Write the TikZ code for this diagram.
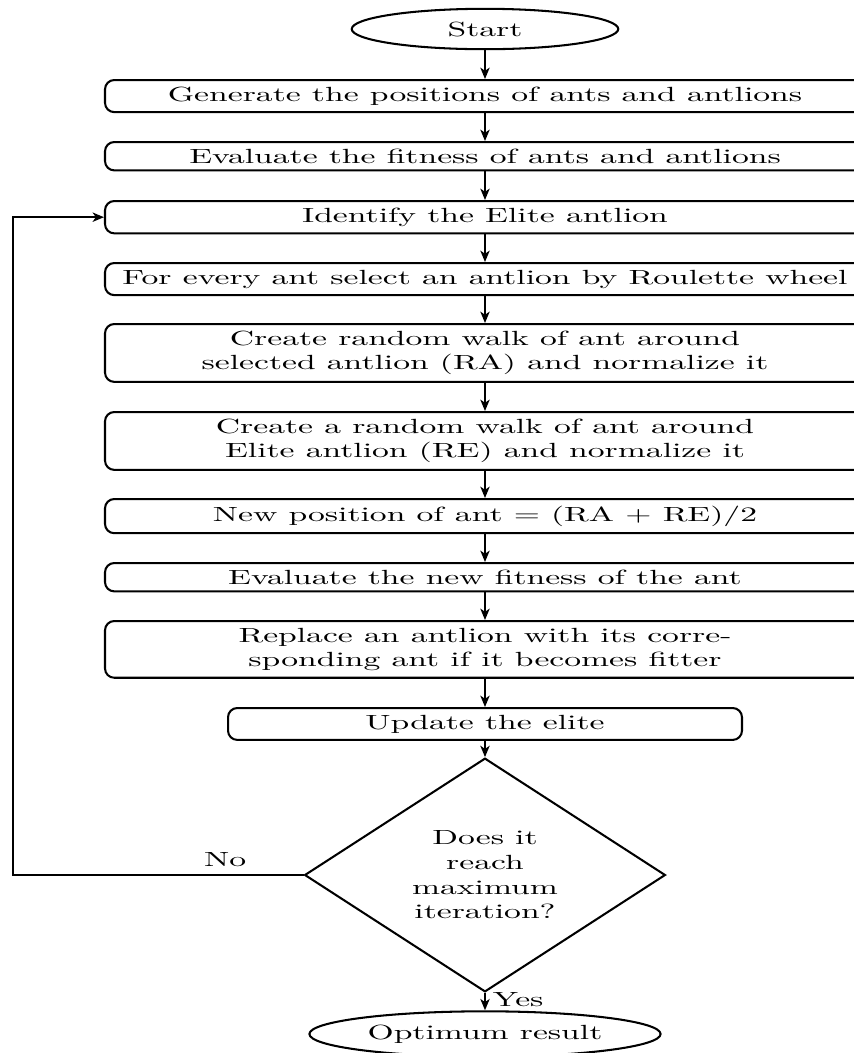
\documentclass[tikz,border=0pt]{standalone}
\usepackage{fontspec}
\setmainfont{lmroman10-regular.otf}[FakeStretch=1.64]
\usetikzlibrary{shapes.geometric,arrows.meta}
\begin{document}
\begin{tikzpicture}[x=0.4878pt,y=-0.4878pt,
  line width=1pt,
  box/.style={draw, rounded corners=4.5pt, minimum width=370.7pt, align=center, anchor=north},
  term/.style={draw, ellipse},
  decision/.style={draw, diamond, minimum width=176pt, minimum height=104.4pt, inner sep=0pt, align=center},
  arr/.style={-{Stealth[length=5.5pt,width=4.5pt,inset=1.5pt]}}
]
\useasboundingbox (0,0) rectangle (854,1053);
\node[term, minimum width=130pt] (start) at (485,29) {Start};
\node[box] (gen) at (485,79) {Generate the positions of ants and antlions};
\node[box] (eval) at (485,141) {Evaluate the fitness of ants and antlions};
\node[box] (ident) at (485,200) {Identify the Elite antlion};
\node[box] (sel) at (485,262) {For every ant select an antlion by Roulette wheel};
\node[box] (ra) at (485,323) {Create random walk of ant around\\selected antlion (RA) and normalize it};
\node[box] (re) at (485,411) {Create a random walk of ant around\\Elite antlion (RE) and normalize it};
\node[box] (newp) at (485,498) {New position of ant = (RA + RE)/2};
\node[box] (evn) at (485,562) {Evaluate the new fitness of the ant};
\node[box] (rep) at (485,620) {Replace an antlion with its corre-\\sponding ant if it becomes fitter};
\node[box, minimum width=250.7pt] (upd) at (485,707) {Update the elite};
\node[decision] (dec) at (485,875) {Does it\\reach\\maximum\\iteration?};
\node[term] (opt) at (485,1034) {Optimum result};
\coordinate (loop) at (13,875);

\draw[arr] (start) -- (gen);
\draw[arr] (gen) -- (eval);
\draw[arr] (eval) -- (ident);
\draw[arr] (ident) -- (sel);
\draw[arr] (sel) -- (ra);
\draw[arr] (ra) -- (re);
\draw[arr] (re) -- (newp);
\draw[arr] (newp) -- (evn);
\draw[arr] (evn) -- (rep);
\draw[arr] (rep) -- (upd);
\draw[arr] (upd) -- (dec);
\draw[arr] (dec) -- node[right, pos=0.4] {Yes} (opt);
\draw[arr] (dec.west) -- node[above, pos=0.27] {No} (loop) |- (ident.west);
\end{tikzpicture}
\end{document}
